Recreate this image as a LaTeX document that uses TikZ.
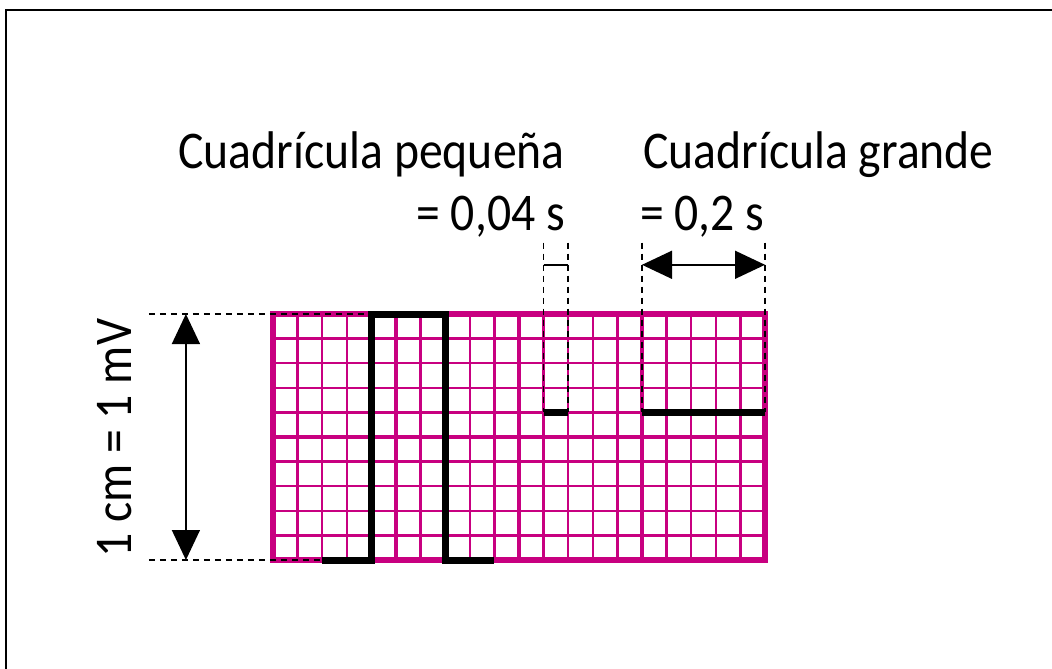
\documentclass[tikz,border=0pt]{standalone}
\usepackage{fontspec}
\setmainfont{Carlito}[FakeStretch=0.9]
\usetikzlibrary{arrows.meta}
\definecolor{ecg}{RGB}{200,0,128}
\tikzset{
  minorline/.style={ecg, line width=2.4pt},
  majorline/.style={ecg, line width=4.5pt},
  borderline/.style={ecg, line width=6pt},
  pulse/.style={black, line width=7pt, line join=miter},
  dimdash/.style={black, line width=1.5pt, dash pattern=on 6pt off 5pt},
  dimarrow/.style={black, line width=1.5pt, {Triangle[length=30pt,width=28pt]}-{Triangle[length=30pt,width=28pt]}},
  lbl/.style={inner sep=0pt, font=\fontsize{53}{62}\selectfont}
}
\begin{document}
\begin{tikzpicture}[x=1pt,y=-1pt]
\useasboundingbox (0,0) rectangle (1052,669);
\draw[line width=2.5pt] (6,669) -- (6,10) -- (1052,10);

\node[lbl, anchor=base east] (peq) at (565,168) {Cuadrícula pequeña};
\node[lbl, anchor=base east] (peqv) at (565,230) {= 0,04 s};
\node[lbl, anchor=base west] (gra) at (643,168) {Cuadrícula grande};
\node[lbl, anchor=base west] (grav) at (640,230) {= 0,2 s};

\begin{scope}[shift={(273,560)}, x=24.6pt, y=24.6pt]
  \foreach \i in {1,...,19} \draw[minorline] (\i,0) -- (\i,10);
  \foreach \j in {1,...,9} \draw[minorline] (0,\j) -- (20,\j);
  \foreach \i in {5,10,15} \draw[majorline] (\i,0) -- (\i,10);
  \draw[majorline] (0,5) -- (20,5);
  \draw[borderline] (0,0) rectangle (20,10);

  \coordinate (p0) at (2,0);
  \coordinate (p1) at (4,10);
  \coordinate (p2) at (7,0);
  \coordinate (p3) at (9,0);
  \draw[pulse] (p0) -| (p1) -| (p2) -- (p3);

  \coordinate (s1) at (11,6);
  \coordinate (s2) at (12,6);
  \coordinate (g1) at (15,6);
  \coordinate (g2) at (20,6);
  \draw[pulse] (s1) -- (s2);
  \draw[pulse] (g1) -- (g2);

  \coordinate (s1t) at (11,12.9);
  \coordinate (s2t) at (12,12.9);
  \coordinate (g1t) at (15,12.9);
  \coordinate (g2t) at (20,12.9);
  \coordinate (s1m) at (11,12);
  \coordinate (s2m) at (12,12);
  \coordinate (g1m) at (15,12);
  \coordinate (g2m) at (20,12);
  \draw[dimdash] (s1t) -- (s1);
  \draw[dimdash] (s2t) -- (s2);
  \draw[dimdash] (g1t) -- (g1);
  \draw[dimdash] (g2t) -- (g2);
  \draw[black, line width=1.5pt] (s1m) -- (s2m);
  \draw[dimarrow] (g1m) -- (g2m);

  \coordinate (lt) at (-5.05,10);
  \coordinate (lb) at (-5.05,0);
  \draw[dimdash] (lt) -- (p1);
  \draw[dimdash] (lb) -- (p0);
  \coordinate (at) at (-3.54,10);
  \coordinate (ab) at (-3.54,0);
  \draw[dimarrow] (ab) -- (at);
  \node[lbl, rotate=90] (mv) at (-6.42,4.95) {1 cm = 1 mV};
\end{scope}
\end{tikzpicture}
\end{document}
